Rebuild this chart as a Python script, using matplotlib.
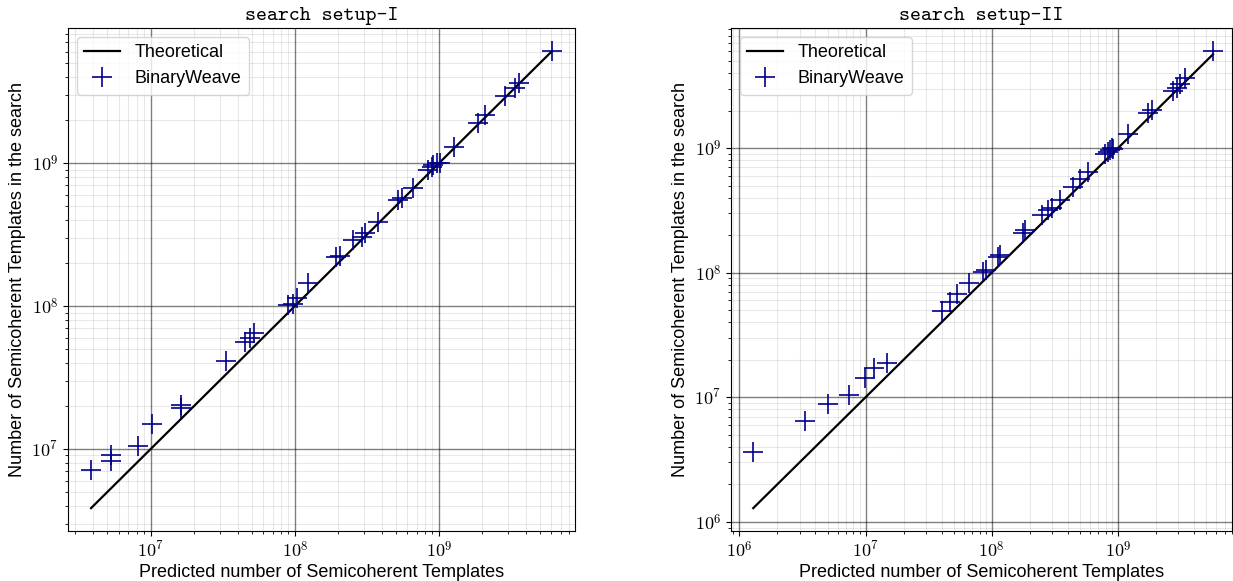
import numpy as np
import matplotlib
matplotlib.use('Agg')
import matplotlib.pyplot as plt
from matplotlib.ticker import FuncFormatter

plt.rcParams['font.family'] = ['Liberation Sans', 'DejaVu Sans']
plt.rcParams['mathtext.fontset'] = 'cm'

# search setup-I : predicted vs. counted semicoherent templates
pred_1 = [3.85e6, 5.3e6, 5.3e6, 8.2e6, 1.02e7, 1.61e7, 1.61e7, 3.33e7, 4.5e7, 4.9e7,
          5.2e7, 8.97e7, 9.7e7, 1.03e8, 1.24e8, 1.93e8, 2.05e8, 2.54e8, 2.9e8, 3.06e8,
          3.79e8, 5.2e8, 5.5e8, 6.64e8, 8.4e8, 8.9e8, 9.1e8, 9.6e8, 1.02e9, 1.26e9,
          1.87e9, 2.09e9, 2.87e9, 3.37e9, 3.56e9, 6.07e9]
found_1 = [7.1e6, 9.1e6, 8.2e6, 1.05e7, 1.5e7, 2.02e7, 1.93e7, 4.1e7, 5.6e7, 6.0e7,
           6.44e7, 1.02e8, 1.04e8, 1.13e8, 1.44e8, 2.2e8, 2.24e8, 2.9e8, 3.06e8, 3.22e8,
           3.89e8, 5.5e8, 5.66e8, 6.65e8, 8.9e8, 9.4e8, 9.7e8, 9.96e8, 1.0e9, 1.3e9,
           1.9e9, 2.16e9, 2.93e9, 3.35e9, 3.62e9, 6.1e9]

# search setup-II
pred_2 = [1.29e6, 3.33e6, 5.03e6, 7.34e6, 9.96e6, 1.17e7, 1.47e7, 4.03e7, 4.69e7, 5.3e7,
          6.55e7, 8.6e7, 9.0e7, 1.13e8, 1.17e8, 1.78e8, 1.85e8, 2.49e8, 2.81e8, 2.99e8,
          3.48e8, 4.44e8, 5.0e8, 5.83e8, 7.9e8, 8.4e8, 8.65e8, 8.93e8, 9.2e8, 1.21e9,
          1.74e9, 1.85e9, 2.75e9, 2.92e9, 3.11e9, 3.4e9, 5.66e9]
found_2 = [3.62e6, 6.46e6, 8.8e6, 1.04e7, 1.44e7, 1.73e7, 1.9e7, 4.95e7, 5.85e7, 6.8e7,
           8.2e7, 1.02e8, 1.05e8, 1.34e8, 1.38e8, 2.08e8, 2.2e8, 2.9e8, 3.18e8, 3.28e8,
           3.82e8, 4.89e8, 5.7e8, 6.45e8, 8.93e8, 9.27e8, 9.68e8, 9.98e8, 9.86e8, 1.29e9,
           1.9e9, 2.02e9, 2.88e9, 3.06e9, 3.25e9, 3.64e9, 6.03e9]

titles = ['search setup-I', 'search setup-II']

W, H = 1233, 581
fig = plt.figure(figsize=(W / 100, H / 100), dpi=100)
ax1 = fig.add_axes([68 / W, 50 / H, 507 / W, 503 / H])
ax2 = fig.add_axes([731 / W, 50 / H, 501 / W, 503 / H])

def pow10(v, pos):
    return r'$10^{%d}$' % int(round(np.log10(v)))

for ax, pred, found, title in [(ax1, pred_1, found_1, titles[0]),
                               (ax2, pred_2, found_2, titles[1])]:
    p = np.sort(pred)
    ax.plot(p, p, color='black', lw=1.6, label='Theoretical')
    ax.plot(pred, found, '+', color='darkblue', ms=14, mew=1.2, label='BinaryWeave')
    ax.set_xscale('log')
    ax.set_yscale('log')
    # translucent black so crossings of minor lines don't break the major ones
    ax.grid(True, which='major', color='black', alpha=0.5, lw=1.0)
    ax.grid(True, which='minor', color='black', alpha=0.09, lw=0.8)
    ax.xaxis.set_major_formatter(FuncFormatter(pow10))
    ax.yaxis.set_major_formatter(FuncFormatter(pow10))
    ax.tick_params(labelsize=13)
    ax.set_xlabel('Predicted number of Semicoherent Templates', fontsize=13, labelpad=2)
    ax.set_ylabel('Number of Semicoherent Templates in the search', fontsize=13)
    ax.set_title(title, family='cmtt10', fontsize=15, pad=6)
    ax.legend(loc='upper left', fontsize=13)

ax2.set_xlim(8.6e5, 8.0e9)

fig.savefig('out.png', dpi=100)
